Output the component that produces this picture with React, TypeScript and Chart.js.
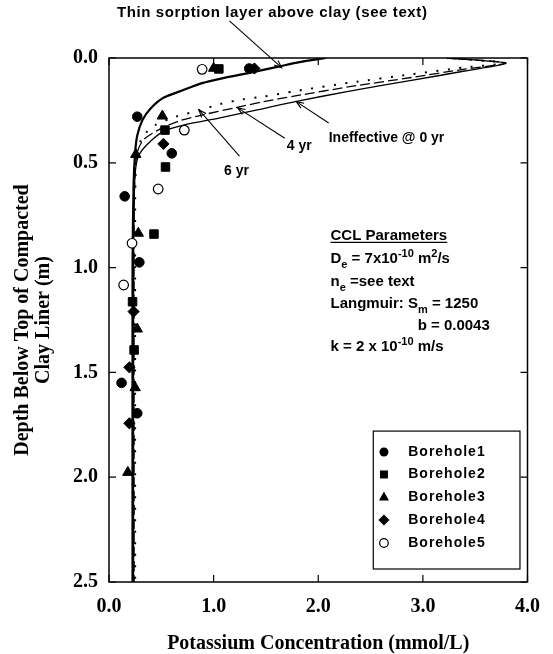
import React, { useEffect, useRef } from 'react';
import { Chart, registerables } from 'chart.js';

Chart.register(...registerables);

const SANS = '"Liberation Sans", Arial, Helvetica, sans-serif';
const SERIF = '"Liberation Serif", "Times New Roman", serif';

// Axis ticks
const xTickValues = [0, 1, 2, 3, 4];
const xTickLabels = ['0.0', '1.0', '2.0', '3.0', '4.0'];
const yTickValues = [0, 0.5, 1.0, 1.5, 2.0, 2.5];
const yTickLabels = ['0.0', '0.5', '1.0', '1.5', '2.0', '2.5'];

// Model curves (concentration mmol/L vs depth m)
const thinDepth = [0, 0.02, 0.04, 0.073, 0.097, 0.12, 0.153, 0.19, 0.24, 0.296, 0.37, 0.45, 0.6, 1.0, 2.5];
const thinConc = [2.07, 1.82, 1.63, 1.32, 1.08, 0.89, 0.71, 0.52, 0.4, 0.32, 0.27, 0.25, 0.235, 0.225, 0.225];

const ineffDepth = [0, 0.024, 0.062, 0.107, 0.158, 0.208, 0.254, 0.287, 0.318, 0.35, 0.415, 0.47, 0.55, 0.7, 1.0, 2.5];
const ineffConc = [3.23, 3.79, 3.4, 2.89, 2.3, 1.78, 1.36, 1.05, 0.73, 0.52, 0.36, 0.28, 0.25, 0.24, 0.235, 0.235];

const yr4Depth = [0, 0.024, 0.053, 0.093, 0.137, 0.181, 0.208, 0.238, 0.272, 0.3, 0.338, 0.39, 0.45, 0.55, 0.7, 2.5];
const yr4Conc = [3.23, 3.79, 3.4, 2.89, 2.3, 1.78, 1.48, 1.2, 0.89, 0.67, 0.49, 0.33, 0.27, 0.25, 0.24, 0.24];

const yr6Depth = [0, 0.024, 0.045, 0.078, 0.118, 0.158, 0.184, 0.197, 0.22, 0.25, 0.28, 0.32, 0.37, 0.44, 0.55, 0.7, 2.5];
const yr6Conc = [3.23, 3.79, 3.4, 2.89, 2.3, 1.78, 1.48, 1.28, 1.06, 0.86, 0.64, 0.44, 0.33, 0.27, 0.255, 0.25, 0.25];

// Field data
const bh1Conc = [1.34, 0.27, 0.6, 0.15, 0.29, 0.12, 0.27];
const bh1Depth = [0.05, 0.28, 0.455, 0.66, 0.975, 1.55, 1.695];
const bh2Conc = [1.05, 0.535, 0.54, 0.43, 0.225, 0.24];
const bh2Depth = [0.052, 0.344, 0.52, 0.84, 1.163, 1.393];
const bh3Conc = [1.0, 0.51, 0.256, 0.28, 0.27, 0.25, 0.18];
const bh3Depth = [0.049, 0.277, 0.46, 0.836, 1.293, 1.573, 1.977];
const bh4Conc = [1.39, 0.52, 0.235, 0.195, 0.195];
const bh4Depth = [0.05, 0.41, 1.21, 1.476, 1.743];
const bh5Conc = [0.89, 0.72, 0.47, 0.22, 0.14];
const bh5Depth = [0.054, 0.344, 0.625, 0.884, 1.083];

const legendLabels = ['Borehole1', 'Borehole2', 'Borehole3', 'Borehole4', 'Borehole5'];
const legendStyles = ['circle', 'rect', 'triangle', 'rectRot', 'open'];

const toXY = (xs: number[], ys: number[]) => xs.map((x, i) => ({ x, y: ys[i] }));

type Seg = [string, 'n' | 'sub' | 'sup'];

function drawRich(ctx: CanvasRenderingContext2D, segs: Seg[], x: number, y: number) {
  let cx = x;
  for (const [t, k] of segs) {
    ctx.font = k === 'n' ? `bold 15px ${SANS}` : `bold 11px ${SANS}`;
    const dy = k === 'sub' ? 5 : k === 'sup' ? -6 : 0;
    ctx.fillText(t, cx, y + dy);
    cx += ctx.measureText(t).width;
  }
  return cx - x;
}

function arrow(ctx: CanvasRenderingContext2D, x1: number, y1: number, x2: number, y2: number) {
  ctx.beginPath();
  ctx.moveTo(x1, y1);
  ctx.lineTo(x2, y2);
  ctx.stroke();
  const ang = Math.atan2(y2 - y1, x2 - x1);
  const L = 8;
  const w = 0.38;
  ctx.beginPath();
  ctx.moveTo(x2 - L * Math.cos(ang - w), y2 - L * Math.sin(ang - w));
  ctx.lineTo(x2, y2);
  ctx.lineTo(x2 - L * Math.cos(ang + w), y2 - L * Math.sin(ang + w));
  ctx.stroke();
}

function marker(ctx: CanvasRenderingContext2D, style: string, x: number, y: number) {
  ctx.beginPath();
  ctx.fillStyle = '#000';
  ctx.strokeStyle = '#000';
  ctx.lineWidth = 1.2;
  if (style === 'circle') {
    ctx.arc(x, y, 4.5, 0, Math.PI * 2);
    ctx.fill();
  } else if (style === 'open') {
    ctx.arc(x, y, 4.3, 0, Math.PI * 2);
    ctx.fillStyle = '#fff';
    ctx.fill();
    ctx.stroke();
  } else if (style === 'rect') {
    ctx.rect(x - 4, y - 4, 8, 8);
    ctx.fill();
  } else if (style === 'triangle') {
    ctx.moveTo(x, y - 5.5);
    ctx.lineTo(x + 5, y + 3.5);
    ctx.lineTo(x - 5, y + 3.5);
    ctx.closePath();
    ctx.fill();
  } else {
    ctx.moveTo(x, y - 5.5);
    ctx.lineTo(x + 5.5, y);
    ctx.lineTo(x, y + 5.5);
    ctx.lineTo(x - 5.5, y);
    ctx.closePath();
    ctx.fill();
  }
}

// annotation placement (data coordinates: x = conc, y = depth)
const arrows = [
  { from: [1.151, -0.177], to: [1.65, 0.046] },
  { from: [1.68, 0.383], to: [1.23, 0.238] },
  { from: [1.247, 0.468], to: [0.86, 0.248] },
  { from: [2.1, 0.31], to: [1.79, 0.208] },
];

const decorPlugin = {
  id: 'decor',
  afterDatasetsDraw(chart: any) {
    const { ctx, chartArea: a, scales } = chart;
    const px = (v: number) => scales.x.getPixelForValue(v);
    const py = (v: number) => scales.y.getPixelForValue(v);
    ctx.save();
    ctx.strokeStyle = '#000';
    ctx.fillStyle = '#000';

    // frame
    ctx.lineWidth = 1.5;
    ctx.strokeRect(a.left, a.top, a.right - a.left, a.bottom - a.top);

    // inward ticks on all sides
    ctx.lineWidth = 1.2;
    ctx.beginPath();
    for (const v of xTickValues) {
      const x = px(v);
      ctx.moveTo(x, a.bottom);
      ctx.lineTo(x, a.bottom - 7);
      ctx.moveTo(x, a.top);
      ctx.lineTo(x, a.top + 7);
    }
    for (const v of yTickValues) {
      const y = py(v);
      ctx.moveTo(a.left, y);
      ctx.lineTo(a.left + 7, y);
      ctx.moveTo(a.right, y);
      ctx.lineTo(a.right - 7, y);
    }
    ctx.stroke();

    // axis titles
    ctx.font = `bold 20px ${SERIF}`;
    ctx.textAlign = 'center';
    ctx.textBaseline = 'alphabetic';
    ctx.fillText('Potassium Concentration (mmol/L)', (a.left + a.right) / 2, 649);
    const cy = (a.top + a.bottom) / 2;
    ctx.save();
    ctx.translate(0, cy);
    ctx.rotate(-Math.PI / 2);
    ctx.textBaseline = 'middle';
    ctx.fillText('Depth Below Top of Compacted', 0, 23);
    ctx.fillText('Clay Liner (m)', 0, 44);
    ctx.restore();

    // arrows
    ctx.lineWidth = 1.1;
    for (const ar of arrows) {
      arrow(ctx, px(ar.from[0]), py(ar.from[1]), px(ar.to[0]), py(ar.to[1]));
    }

    // annotation text
    ctx.textBaseline = 'middle';
    (ctx as any).letterSpacing = '0.6px';
    ctx.font = `bold 15px ${SANS}`;
    ctx.textAlign = 'center';
    ctx.fillText('Thin sorption layer above clay (see text)', px(1.56), py(-0.215));
    (ctx as any).letterSpacing = '0px';
    ctx.font = `bold 14px ${SANS}`;
    ctx.textAlign = 'left';
    ctx.fillText('4 yr', px(1.7), py(0.42));
    ctx.fillText('6 yr', px(1.1), py(0.539));
    ctx.fillText('Ineffective @ 0 yr', px(2.1), py(0.382));

    // CCL parameters block
    ctx.textBaseline = 'alphabetic';
    const bx = px(2.117);
    ctx.font = `bold 15px ${SANS}`;
    const ccl = 'CCL Parameters';
    const yCcl = py(0.868);
    ctx.fillText(ccl, bx, yCcl);
    const wCcl = ctx.measureText(ccl).width;
    ctx.beginPath();
    ctx.lineWidth = 1.2;
    ctx.moveTo(bx, yCcl + 2.5);
    ctx.lineTo(bx + wCcl, yCcl + 2.5);
    ctx.stroke();
    drawRich(ctx, [['D', 'n'], ['e', 'sub'], [' = 7x10', 'n'], ['-10', 'sup'], [' m', 'n'], ['2', 'sup'], ['/s', 'n']], bx, py(0.978));
    drawRich(ctx, [['n', 'n'], ['e', 'sub'], [' =see text', 'n']], bx, py(1.088));
    drawRich(ctx, [['Langmuir: S', 'n'], ['m', 'sub'], [' = 1250', 'n']], bx, py(1.193));
    drawRich(ctx, [['b = 0.0043', 'n']], px(2.95), py(1.298));
    drawRich(ctx, [['k = 2 x 10', 'n'], ['-10', 'sup'], [' m/s', 'n']], bx, py(1.398));

    // legend
    const lx1 = px(2.526), lx2 = px(3.928), ly1 = py(1.78), ly2 = py(2.438);
    ctx.fillStyle = '#fff';
    ctx.fillRect(lx1, ly1, lx2 - lx1, ly2 - ly1);
    ctx.lineWidth = 1.2;
    ctx.strokeStyle = '#000';
    ctx.strokeRect(lx1, ly1, lx2 - lx1, ly2 - ly1);
    const rows = [1.88, 1.987, 2.094, 2.204, 2.314];
    legendLabels.forEach((lab, i) => {
      const y = py(rows[i]);
      marker(ctx, legendStyles[i], px(2.628), y);
      ctx.fillStyle = '#000';
      ctx.font = `bold 14px ${SANS}`;
      ctx.textAlign = 'left';
      ctx.textBaseline = 'middle';
      (ctx as any).letterSpacing = '1px';
      ctx.fillText(lab, px(2.86), y);
      (ctx as any).letterSpacing = '0px';
    });
    ctx.restore();
  },
};

export default function App() {
  const ref = useRef<HTMLCanvasElement | null>(null);
  useEffect(() => {
    document.body.style.margin = '0';
    const canvas = ref.current;
    if (!canvas) return;
    const pointBase = { showLine: false, pointBorderColor: '#000', pointBorderWidth: 1 };
    const lineBase = { showLine: true, pointRadius: 0, borderColor: '#000', fill: false, tension: 0.25 };
    const chart = new Chart(canvas, {
      type: 'scatter',
      data: {
        datasets: [
          { ...pointBase, label: legendLabels[0], data: toXY(bh1Conc, bh1Depth), pointStyle: 'circle', pointRadius: 4.8, pointBackgroundColor: '#000' },
          { ...pointBase, label: legendLabels[1], data: toXY(bh2Conc, bh2Depth), pointStyle: 'rect', pointRadius: 6, pointBackgroundColor: '#000' },
          { ...pointBase, label: legendLabels[2], data: toXY(bh3Conc, bh3Depth), pointStyle: 'triangle', pointRadius: 6, pointBackgroundColor: '#000' },
          { ...pointBase, label: legendLabels[3], data: toXY(bh4Conc, bh4Depth), pointStyle: 'rectRot', pointRadius: 5.6, pointBackgroundColor: '#000' },
          { ...pointBase, label: legendLabels[4], data: toXY(bh5Conc, bh5Depth), pointStyle: 'circle', pointRadius: 4.8, pointBackgroundColor: '#fff', pointBorderWidth: 1.2 },
          { ...lineBase, label: 'Thin sorption layer', data: toXY(thinConc, thinDepth), borderWidth: 2.2 },
          { ...lineBase, label: 'Ineffective @ 0 yr', data: toXY(ineffConc, ineffDepth), borderWidth: 1.3 },
          { ...lineBase, label: '4 yr', data: toXY(yr4Conc, yr4Depth), borderWidth: 1.3, borderDash: [10, 4] },
          { ...lineBase, label: '6 yr', data: toXY(yr6Conc, yr6Depth), borderWidth: 2, borderDash: [2, 9.5] },
        ],
      },
      options: {
        animation: false,
        responsive: false,
        devicePixelRatio: 1,
        layout: { padding: { top: 58, right: 13, left: 0, bottom: 0 } },
        plugins: { legend: { display: false }, tooltip: { enabled: false } },
        scales: {
          x: {
            type: 'linear',
            min: 0,
            max: 4,
            afterBuildTicks: (s: any) => { s.ticks = xTickValues.map((v) => ({ value: v })); },
            ticks: {
              callback: (_v: any, i: number) => xTickLabels[i],
              font: { family: SERIF, size: 20, weight: 'bold' },
              color: '#000',
              padding: 13,
              maxRotation: 0,
            },
            grid: { display: false, drawTicks: false },
            border: { display: false },
            afterFit: (s: any) => { s.height = 72; },
          },
          y: {
            type: 'linear',
            reverse: true,
            min: 0,
            max: 2.5,
            afterBuildTicks: (s: any) => { s.ticks = yTickValues.map((v) => ({ value: v })); },
            ticks: {
              callback: (_v: any, i: number) => yTickLabels[i],
              font: { family: SERIF, size: 20, weight: 'bold' },
              color: '#000',
              padding: 11,
            },
            grid: { display: false, drawTicks: false },
            border: { display: false },
            afterFit: (s: any) => { s.width = 109; },
          },
        },
      } as any,
      plugins: [decorPlugin],
    });
    return () => chart.destroy();
  }, []);
  return (
    <div style={{ position: 'absolute', left: 0, top: 0, width: 553, height: 654, background: '#fff' }}>
      <canvas ref={ref} width={553} height={654} style={{ width: 553, height: 654, display: 'block' }} />
    </div>
  );
}
